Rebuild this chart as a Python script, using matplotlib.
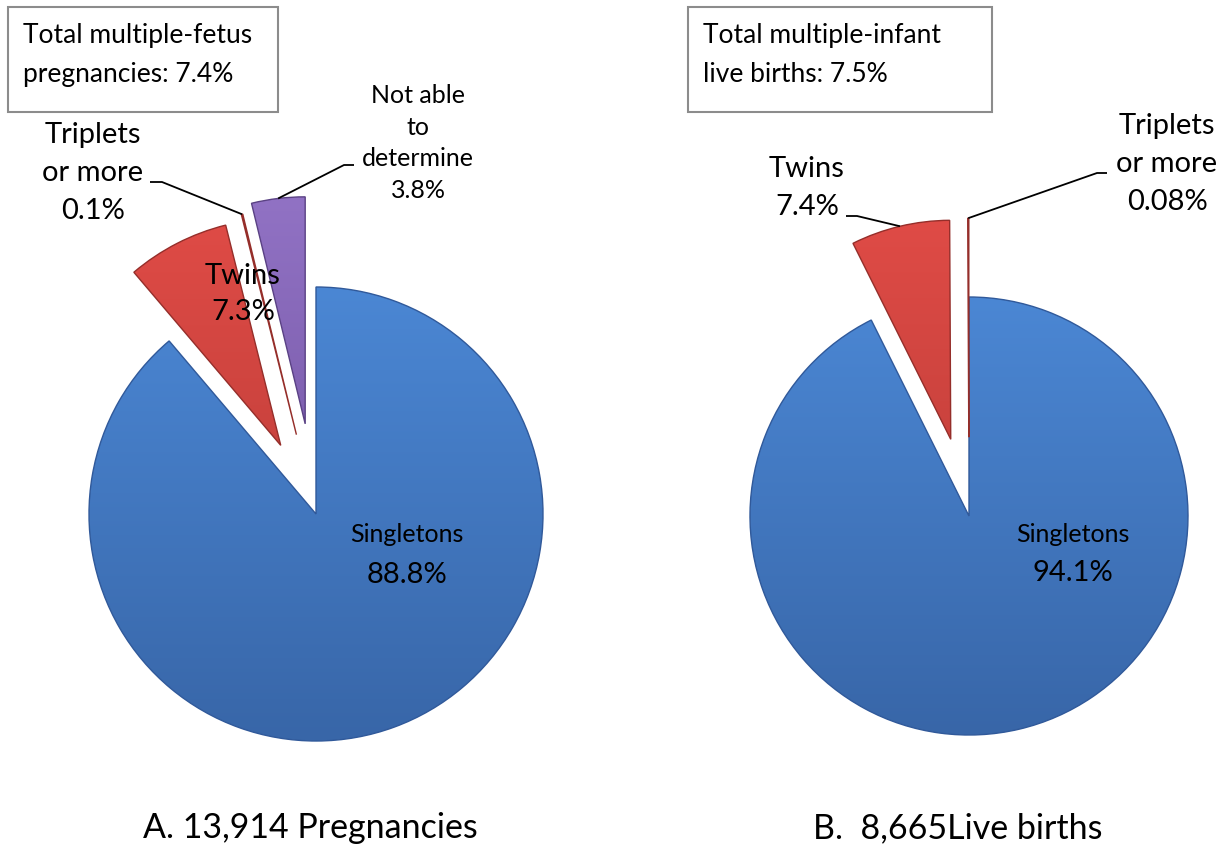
import numpy as np
import matplotlib.pyplot as plt
from matplotlib.colors import LinearSegmentedColormap

plt.rcParams['font.family'] = ['Lato', 'DejaVu Sans']

# Data
preg_labels = ["Singletons", "Twins", "Triplets\nor more", "Not able\nto\ndetermine"]
preg_values = [88.8, 7.3, 0.1, 3.8]
preg_total = 7.4
preg_title = "A. 13,914 Pregnancies"

birth_labels = ["Singletons", "Twins", "Triplets\nor more"]
birth_values = [94.1, 7.4, 0.08]
birth_total = 7.5
birth_title = "B.  8,665Live births"

# Styling
W, H = 1225, 849
BLUE = ("#4b87d4", "#3866a8", "#30599a")
RED = ("#df4b46", "#b53a35", "#952e2a")
PURPLE = ("#9172c4", "#6d4f9c", "#5a4184")


def Y(y):
    return H - y


fig = plt.figure(figsize=(W / 100, H / 100), dpi=100)
ax = fig.add_axes([0, 0, 1, 1])


def shaded_pie(values, center, radius, explode, palettes):
    wedges, _ = ax.pie(values, startangle=90, counterclock=False,
                       center=center, radius=radius,
                       explode=[e * radius for e in explode],
                       colors=[p[1] for p in palettes],
                       wedgeprops=dict(linewidth=0))
    grad = np.linspace(0, 1, 256).reshape(-1, 1)
    for w, pal in zip(wedges, palettes):
        cmap = LinearSegmentedColormap.from_list("g", [pal[1], pal[0]])
        cx, cy = w.center
        r = w.r
        im = ax.imshow(grad, extent=[cx - r, cx + r, cy - r, cy + r],
                       origin="lower", cmap=cmap, aspect="auto",
                       zorder=w.get_zorder() + 0.1)
        im.set_clip_path(w)
        w.set_edgecolor(pal[2])
        w.set_linewidth(1.0)
        w.set_zorder(w.get_zorder() + 0.2)
        w.set_facecolor("none")
    return wedges


def tip(w):
    t = np.deg2rad((w.theta1 + w.theta2) / 2)
    cx, cy = w.center
    return cx + w.r * np.cos(t), cy + w.r * np.sin(t)


def leader(points, w):
    xs = [p[0] for p in points]
    ys = [Y(p[1]) for p in points]
    ex, ey = tip(w)
    ax.plot(xs + [ex], ys + [ey], color="black", lw=1.3, zorder=5,
            solid_capstyle="butt")


# Left pie: pregnancies
left = shaded_pie(preg_values, (316, Y(514)), 227, [0, 0.34, 0.36, 0.40],
                  [BLUE, RED, RED, PURPLE])

# Right pie: live births
right = shaded_pie(birth_values, (969, Y(516)), 219, [0, 0.36, 0.36],
                   [BLUE, RED, RED])

# Summary boxes
for (x0, x1), txt in [((8, 278), f"Total multiple-fetus\npregnancies: {preg_total}%"),
                      ((688, 992), f"Total multiple-infant\nlive births: {birth_total}%")]:
    ax.add_patch(plt.Rectangle((x0, Y(112)), x1 - x0, 105, facecolor="white",
                               edgecolor="#8c8c8c", lw=1.5, zorder=4))
    ax.text(x0 + 15, Y(55), txt, ha="left", va="center", fontsize=19,
            linespacing=1.7, zorder=5)

# Left pie labels
ax.text(93, Y(173), f"{preg_labels[2]}\n{preg_values[2]}%", ha="center",
        va="center", fontsize=21, linespacing=1.55)
leader([(150, 182), (162, 182)], left[2])

ax.text(418, Y(143), f"{preg_labels[3]}\n{preg_values[3]}%", ha="center",
        va="center", fontsize=18, linespacing=1.47)
leader([(354, 165), (344, 165)], left[3])

ax.text(243, Y(294), f"{preg_labels[1]}\n{preg_values[1]}%", ha="center",
        va="center", fontsize=21, linespacing=1.5, zorder=6)

ax.text(407, Y(535), preg_labels[0], ha="center", va="center", fontsize=18,
        zorder=6)
ax.text(407, Y(575), f"{preg_values[0]}%", ha="center", va="center",
        fontsize=21, zorder=6)

ax.text(310, Y(828), preg_title, ha="center", va="center", fontsize=24.5)

# Right pie labels
ax.text(807, Y(188), f"{birth_labels[1]}\n{birth_values[1]}%", ha="center",
        va="center", fontsize=21, linespacing=1.55)
leader([(846, 216), (857, 216)], right[1])

ax.text(1167, Y(164), f"{birth_labels[2]}\n{birth_values[2]}%", ha="center",
        va="center", fontsize=21, linespacing=1.55)
leader([(1107, 173), (1097, 173)], right[2])

ax.text(1073, Y(535), birth_labels[0], ha="center", va="center", fontsize=18,
        zorder=6)
ax.text(1073, Y(573), f"{birth_values[0]}%", ha="center", va="center",
        fontsize=21, zorder=6)

ax.text(958, Y(828), birth_title, ha="center", va="center", fontsize=24.5)

ax.set_xlim(0, W)
ax.set_ylim(0, H)
ax.set_aspect("auto")
ax.axis("off")

fig.savefig("out.png", dpi=100, facecolor="white")
